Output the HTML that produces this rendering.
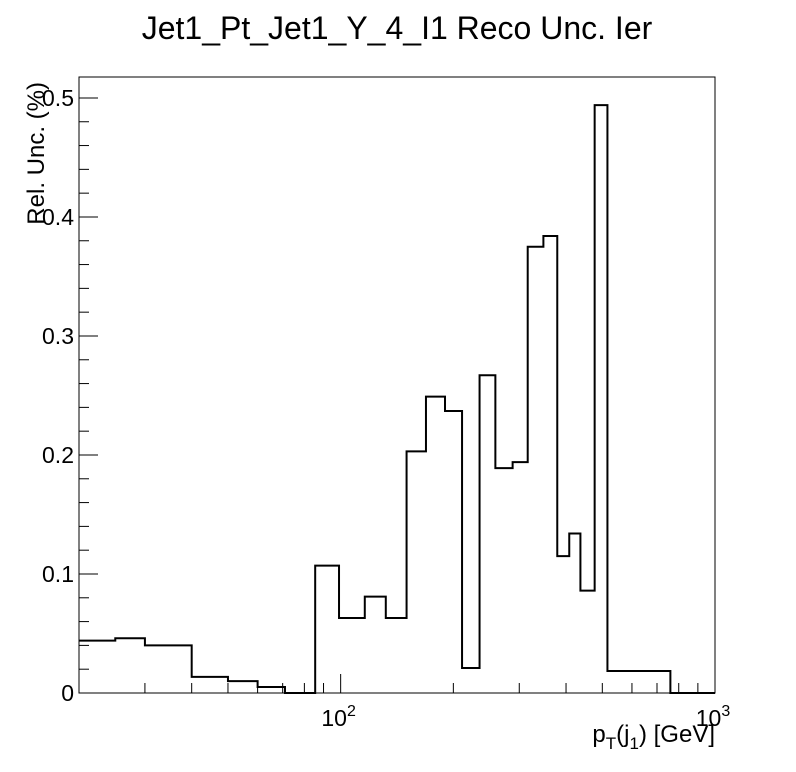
<!DOCTYPE html>
<html><head><meta charset="utf-8"><style>
body{margin:0;background:#fff;}
svg{display:block;font-family:"Liberation Sans",Arial,sans-serif;}
</style></head><body>
<svg id="chart" width="796" height="772" viewBox="0 0 796 772" xmlns="http://www.w3.org/2000/svg">
<rect x="0" y="0" width="796" height="772" fill="#fff"/>
<text x="397" y="39" font-size="32" text-anchor="middle">Jet1_Pt_Jet1_Y_4_I1 Reco Unc. Ier</text>
<rect x="79" y="77" width="636" height="616" fill="none" stroke="#000" stroke-width="1"/>
<g id="ticks"></g>
<g id="labels"></g>
<path id="hist" fill="none" stroke="#000" stroke-width="2"/>
<text x="0" y="0" font-size="24" text-anchor="end" transform="translate(44,82) rotate(-90)">Rel. Unc. (%)</text>
<text x="715" y="742" font-size="24" text-anchor="end">p<tspan font-size="17" dy="7">T</tspan><tspan dy="-7">(j</tspan><tspan font-size="17" dy="7">1</tspan><tspan dy="-7">) [GeV]</tspan></text>
</svg>
<script>
const binEdges = [20,25,30,40,50,60,71,85.5,99,116,132,150,169,190,211,235,259,288,316,348,379,408,437,477,516,760,1000];
const binValues = [0.044,0.046,0.040,0.0135,0.010,0.005,0,0.107,0.063,0.081,0.063,0.203,0.249,0.237,0.021,0.267,0.189,0.194,0.375,0.384,0.115,0.134,0.086,0.494,0.0185,0];
const yTickValues = [0,0.1,0.2,0.3,0.4,0.5];
const yTickLabels = ["0","0.1","0.2","0.3","0.4","0.5"];
const xMajorTicks = [100,1000];
const xMajorLabels = ["2","3"];
const xMinorTicks = [30,40,50,60,70,80,90,200,300,400,500,600,700,800,900];

const X0=79,X1=715,Y0=693,Y1=77,xmin=20,xmax=1000,ymax=0.5176;
const NS="http://www.w3.org/2000/svg";
function sx(v){return X0+(Math.log10(v)-Math.log10(xmin))/(Math.log10(xmax)-Math.log10(xmin))*(X1-X0);}
function sy(v){return Y0-v/ymax*(Y0-Y1);}
const tg=document.getElementById('ticks'), lg=document.getElementById('labels');
function line(x1,y1,x2,y2,name){const l=document.createElementNS(NS,'line');
l.setAttribute('x1',x1);l.setAttribute('y1',y1);l.setAttribute('x2',x2);l.setAttribute('y2',y2);
l.setAttribute('stroke','#000');l.setAttribute('stroke-width','1');


tg.appendChild(l);}
for(let v=0;v<=ymax+1e-9;v+=0.02){const y=sy(v);const major=Math.abs(v*10-Math.round(v*10))<1e-6;line(X0,y,X0+(major?19:10),y,major?'y-major-tick':'y-minor-tick');}
yTickValues.forEach((v,i)=>{const t=document.createElementNS(NS,'text');
t.setAttribute('x',74);t.setAttribute('y',sy(v)+8);t.setAttribute('font-size','23');t.setAttribute('text-anchor','end');


t.textContent=yTickLabels[i];lg.appendChild(t);});
xMinorTicks.forEach(v=>line(sx(v),Y0,sx(v),Y0-10,'x-minor-tick'));
xMajorTicks.forEach((v,i)=>{const x=sx(v);line(x,Y0,x,Y0-19,'x-major-tick');
const t=document.createElementNS(NS,'text');t.setAttribute('x',x-2);t.setAttribute('y',Y0+33);t.setAttribute('font-size','23');t.setAttribute('text-anchor','middle');


t.innerHTML='10<tspan font-size="16" dy="-10">'+xMajorLabels[i]+'</tspan>';lg.appendChild(t);});
let d='M'+sx(binEdges[0])+','+sy(binValues[0]);
for(let i=0;i<binValues.length;i++){
 if(i>0)d+=' L'+sx(binEdges[i])+','+sy(binValues[i]);
 d+=' L'+sx(binEdges[i+1])+','+sy(binValues[i]);
}
document.getElementById('hist').setAttribute('d',d);
</script>
</body></html>
